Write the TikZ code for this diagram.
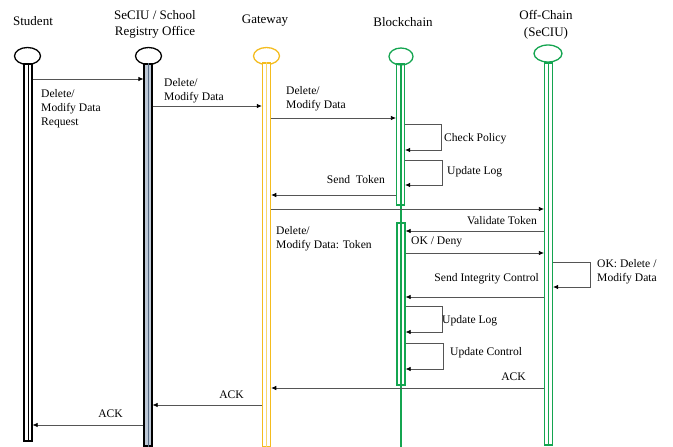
\documentclass[tikz,border=0pt]{standalone}
\usepackage{fontspec}
\setmainfont{Liberation Serif}
\usetikzlibrary{arrows.meta,shapes.geometric}
\definecolor{gwyel}{RGB}{244,188,30}
\definecolor{gwlight}{RGB}{248,215,110}
\definecolor{bcgreen}{RGB}{20,165,80}
\definecolor{secblue}{RGB}{110,135,165}
\definecolor{msggray}{RGB}{85,85,85}
\tikzset{
  hdr/.style={font=\fontsize{13}{16.5}\selectfont, align=center, inner sep=0pt},
  lbl/.style={font=\fontsize{11.6}{14}\selectfont, align=left, inner sep=0pt, anchor=west},
  lblr/.style={font=\fontsize{11.6}{14}\selectfont, align=right, inner sep=0pt, anchor=east},
  head/.style={ellipse, draw, line width=1.3pt, minimum width=26pt, minimum height=17pt, inner sep=0pt},
  bar/.style={rectangle, draw, line width=1.2pt, minimum width=8pt, inner sep=0pt},
  msg/.style={draw=msggray, line width=0.7pt, -{Latex[length=5pt,width=4.5pt,black]}},
}
\begin{document}
\begin{tikzpicture}[x=1pt,y=-1pt]
\useasboundingbox (0,0) rectangle (673,447);
% headers
\node[hdr] (hstu) at (33,21) {Student};
\node[hdr] (hsec) at (155,24.5) {SeCIU / School\\Registry Office};
\node[hdr] (hgw) at (265,21) {Gateway};
\node[hdr] (hbc) at (403,22) {Blockchain};
\node[hdr] (hoff) at (546,25) {Off-Chain\\(SeCIU)};
% heads
\node[head, draw=black] (estu) at (27.5,56) {};
\node[head, draw=black] (esec) at (148.5,56) {};
\node[head, draw=gwyel] (egw) at (266.5,56) {};
\node[head, draw=bcgreen, minimum width=24pt] (ebc) at (401,56.5) {};
\node[head, draw=bcgreen, minimum width=28pt] (eoff) at (548,53.5) {};
% bars
\node[bar, draw=black, fill=white, minimum height=377pt] (stu) at (28,252.5) {};
\draw[line width=0.8pt] (stu.north) -- (stu.south);
\node[bar, draw=black, fill=secblue!45, minimum height=382pt] (sec) at (148,255) {};
\draw[line width=1pt, secblue!80!black] (sec.north) -- (sec.south);
\node[bar, draw=gwyel, fill=white, line width=1.5pt, minimum height=384pt] (gw) at (266.5,255) {};
\draw[line width=1pt, gwlight] (gw.north) -- (gw.south);
\draw[bcgreen, line width=1.2pt] (401,64) -- (401,447);
\node[bar, draw=bcgreen, minimum height=141pt] (bc1) at (400.5,134.5) {};
\node[bar, draw=bcgreen, minimum height=162pt] (bc2) at (401,304) {};
\node[bar, draw=bcgreen, fill=white, minimum height=382pt] (off) at (548.5,254) {};
\draw[line width=0.9pt, bcgreen] (off.north) -- (off.south);
% messages
\draw[msg] (stu.east |- 0,79) -- (sec.west |- 0,79);
\node[lbl] (l1) at (41,109) {Delete/\\Modify Data\\Request};
\draw[msg] (sec.east |- 0,106) -- (gw.west |- 0,106);
\node[lbl] (l2) at (164,90.5) {Delete/\\Modify Data};
\draw[msg] (gw.east |- 0,118) -- (bc1.west |- 0,118);
\node[lbl] (l3) at (286,99) {Delete/\\Modify Data};
\draw[msg] (bc1.east |- 0,124) -- ++(36,0) |- (bc1.east |- 0,150);
\node[lbl] (l4) at (444,139) {Check Policy};
\draw[msg] (bc1.east |- 0,160) -- ++(37,0) |- (bc1.east |- 0,185);
\node[lbl] (l5) at (447,172) {Update Log};
\draw[msg] (bc1.west |- 0,195) -- (gw.east |- 0,195);
\node[lblr] (l6) at (385,180) {Send~~Token};
\draw[msg] (gw.east |- 0,209) -- (off.west |- 0,209);
\node[lbl] (l7) at (276,239) {Delete/\\Modify Data: Token};
\draw[msg] (off.west |- 0,231) -- (bc2.east |- 0,231);
\node[lblr] (l8) at (537,221) {Validate Token};
\draw[msg] (bc2.east |- 0,253) -- (off.west |- 0,253);
\node[lbl] (l9) at (411,242) {OK / Deny};
\draw[msg] (off.east |- 0,262) -- ++(37,0) |- (off.east |- 0,287);
\node[lbl] (l10) at (597,272) {OK: Delete /\\Modify Data};
\draw[msg] (off.west |- 0,297) -- (bc2.east |- 0,297);
\node[lblr] (l11) at (539,279) {Send Integrity Control};
\draw[msg] (bc2.east |- 0,306) -- ++(37,0) |- (bc2.east |- 0,332);
\node[lbl] (l12) at (442,321) {Update Log};
\draw[msg] (bc2.east |- 0,343) -- ++(38,0) |- (bc2.east |- 0,369);
\node[lbl] (l13) at (450,353) {Update Control};
\draw[msg] (off.west |- 0,388) -- (gw.east |- 0,388);
\node[lblr] (l14) at (526,377) {ACK};
\draw[msg] (gw.west |- 0,405) -- (sec.east |- 0,405);
\node[lblr] (l15) at (244,395) {ACK};
\draw[msg] (sec.west |- 0,425) -- (stu.east |- 0,425);
\node[lblr] (l16) at (123,414) {ACK};
\end{tikzpicture}
\end{document}
